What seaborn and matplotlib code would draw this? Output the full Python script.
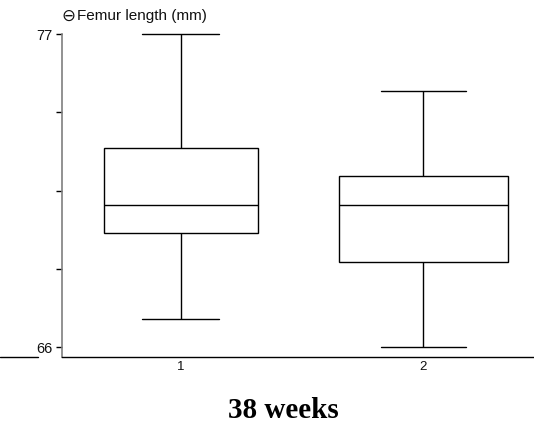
import numpy as np
import pandas as pd
import matplotlib
matplotlib.use("Agg")
import matplotlib.pyplot as plt
from matplotlib.lines import Line2D
import seaborn as sns

# Data (five-number summaries, as sample points)
groups = ["1", "2"]
group1_values = [67, 70, 71, 73, 77]
group2_values = [66, 69, 71, 72, 75]
y_ticks = [66, 68.75, 71.5, 74.25, 77]
y_tick_labels = ["66", "", "", "", "77"]
y_icon = "\u2296"
y_label = "Femur length (mm)"
title = "38 weeks"

df = pd.DataFrame({
    "group": [groups[0]] * len(group1_values) + [groups[1]] * len(group2_values),
    "value": group1_values + group2_values,
})

sns.set_theme(style="white")
plt.rcParams["font.family"] = ["Liberation Sans", "DejaVu Sans"]
plt.rcParams["text.color"] = "black"

fig = plt.figure(figsize=(5.34, 4.28), dpi=100)
ax = fig.add_axes([62 / 534, 71 / 428, 472 / 534, 323 / 428])

line_kw = dict(color="black", linewidth=1.0)
widths = {groups[0]: 0.636, groups[1]: 0.70}
for g in groups:
    sns.boxplot(
        data=df[df["group"] == g], x="group", y="value", order=groups,
        width=widths[g], whis=np.inf, fill=True, color="white",
        linecolor="black", linewidth=1.0, showcaps=True,
        boxprops=dict(facecolor="white", edgecolor="black", linewidth=1.0),
        medianprops=line_kw, whiskerprops=line_kw, capprops=line_kw,
        ax=ax,
    )

for ln in ax.lines:
    ln.set_clip_on(False)

ax.set_xlim(-0.49, 1.456)
ax.set_ylim(65.65, 77.0)
ax.set_yticks(y_ticks)
ax.set_yticklabels(y_tick_labels)
ax.set_xlabel("")
ax.set_ylabel("")

for side in ["top", "right"]:
    ax.spines[side].set_visible(False)
ax.spines["left"].set_color("#7f7f7f")
ax.spines["left"].set_linewidth(1.2)
ax.spines["bottom"].set_color("black")
ax.spines["bottom"].set_linewidth(1.0)

ax.tick_params(axis="y", which="both", left=True, length=4, width=1.0,
               color="black", pad=3, labelsize=10.5, labelcolor="#111111")
ax.tick_params(axis="x", which="both", bottom=False, length=0, pad=3,
               labelsize=9.5, labelcolor="#111111")

# short line at the far left, level with the x axis
fig.add_artist(Line2D([0, 38 / 534], [71 / 428, 71 / 428],
                      transform=fig.transFigure, color="black", linewidth=1.0))

fig.text(61 / 534, 1 - 16 / 428, y_icon, ha="left", va="center",
         fontsize=12, family=["DejaVu Sans"], color="#111111")
fig.text(77 / 534, 1 - 16 / 428, y_label, ha="left", va="center",
         fontsize=11, family=["Liberation Sans", "DejaVu Sans"], color="#111111")

fig.text(283 / 534, 1 - 411 / 428, title, ha="center", va="center",
         fontsize=21, fontweight="bold", color="black",
         family=["Liberation Serif", "DejaVu Serif"])

fig.savefig("out.png", dpi=100)
